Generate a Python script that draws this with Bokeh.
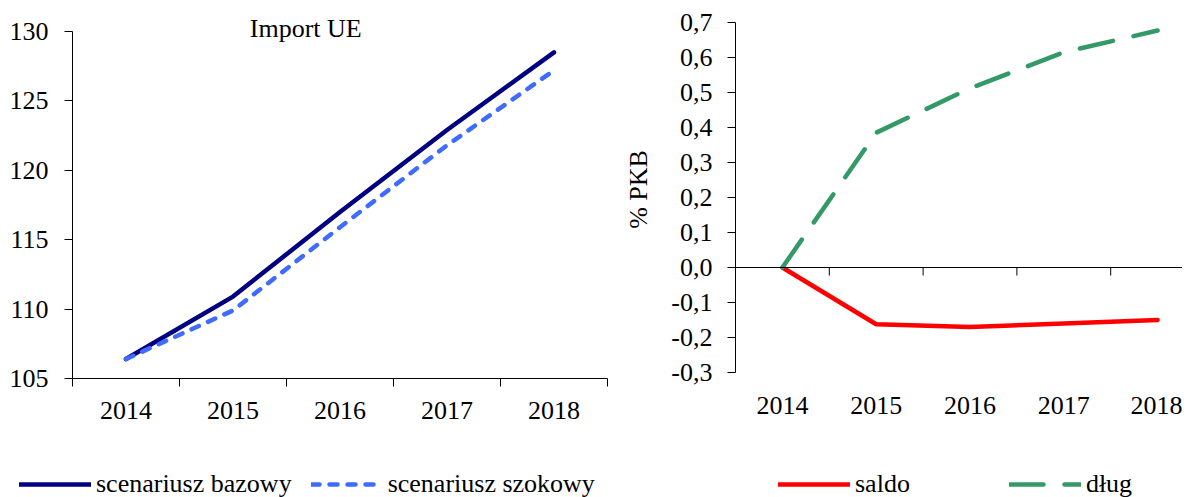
from bokeh.plotting import figure
from bokeh.models import (Range1d, FixedTicker, Span, Label, Legend, LegendItem,
                          CustomJSTickFormatter)
from bokeh.layouts import row, column
from bokeh.embed import file_html
from bokeh.resources import INLINE

# ---- data ----
years = [2014, 2015, 2016, 2017, 2018]
bazowy = [106.4, 110.9, 117.0, 122.9, 128.5]
szokowy = [106.4, 109.9, 115.9, 121.8, 127.2]
saldo = [0.0, -0.162, -0.170, -0.160, -0.150]
dlug = [0.0, 0.385, 0.512, 0.615, 0.677]
left_yticks = [105, 110, 115, 120, 125, 130]
right_yticks = [-0.3, -0.2, -0.1, 0.0, 0.1, 0.2, 0.3, 0.4, 0.5, 0.6, 0.7]
left_title = "Import UE"
right_ylabel = "% PKB"
labels = ["scenariusz bazowy", "scenariusz szokowy", "saldo", "dług"]

FONT = "Liberation Serif"
FS = "26px"
boundaries = [y - 0.5 for y in years] + [years[-1] + 0.5]

C_BAZ, C_SZO, C_SAL, C_DLU = "#000080", "#3F6BFF", "#FF0000", "#339966"
LW = 4.5
DASH_SZO, DASH_DLU = "8 10", "34 21"

# shared frame: top at 0, bottom at 378 (figure height 450)
H = 450
BOTTOM = 72

# ---- left chart ----
l_ppu = 347 / 25.0  # px per unit
p1 = figure(width=608, height=H, output_backend="svg", toolbar_location=None,
            x_range=Range1d(years[0] - 0.5, years[-1] + 0.5),
            y_range=Range1d(left_yticks[0], left_yticks[-1] + 31 / l_ppu),
            min_border_left=72, min_border_right=1, min_border_top=0, min_border_bottom=BOTTOM)
p1.outline_line_color = None
p1.grid.visible = False

p1.line(years, bazowy, line_color=C_BAZ, line_width=LW, line_cap="round", line_join="round")
p1.line(years, szokowy, line_color=C_SZO, line_width=LW, line_dash=DASH_SZO,
        line_cap="round", line_join="round")

p1.xaxis.ticker = FixedTicker(ticks=years, minor_ticks=boundaries)
p1.xaxis.major_tick_out = 0
p1.xaxis.major_tick_in = 0
p1.xaxis.minor_tick_out = 8
p1.xaxis.minor_tick_in = 0
p1.xaxis.major_label_standoff = 15
p1.yaxis.ticker = FixedTicker(ticks=left_yticks, minor_ticks=[])
p1.yaxis.bounds = (left_yticks[0], left_yticks[-1])
p1.yaxis.major_tick_out = 8
p1.yaxis.major_tick_in = 0
p1.yaxis.major_label_standoff = 16
for ax in (p1.xaxis, p1.yaxis):
    ax.axis_line_color = "black"
    ax.major_tick_line_color = "black"
    ax.minor_tick_line_color = "black"
    ax.major_label_text_font = FONT
    ax.major_label_text_font_size = FS
    ax.major_label_text_color = "black"

p1.add_layout(Label(x=2015.68, y=left_yticks[-1], text=left_title, text_font=FONT,
                    text_font_size=FS, text_align="center", text_baseline="middle",
                    y_offset=3, text_color="black"))

# ---- right chart ----
r_ppu = 350 / 1.0
p2 = figure(width=574, height=H, output_backend="svg", toolbar_location=None,
            x_range=Range1d(years[0] - 0.5, years[0] - 0.5 + 447 / 93.8),
            y_range=Range1d(right_yticks[0] - 6 / r_ppu, right_yticks[-1] + 22 / r_ppu),
            min_border_left=127, min_border_right=0, min_border_top=0, min_border_bottom=BOTTOM)
p2.outline_line_color = None
p2.grid.visible = False

p2.add_layout(Span(location=0, dimension="width", line_color="black", line_width=1))
p2.segment(x0=boundaries, y0=[0] * len(boundaries), x1=boundaries,
           y1=[-8 / r_ppu] * len(boundaries), line_color="black", line_width=1)

p2.line(years, saldo, line_color=C_SAL, line_width=LW, line_cap="round", line_join="round")
p2.line(years, dlug, line_color=C_DLU, line_width=LW, line_dash=DASH_DLU,
        line_cap="round", line_join="round")

p2.xaxis.ticker = FixedTicker(ticks=years, minor_ticks=[])
p2.xaxis.axis_line_color = None
p2.xaxis.major_tick_line_color = None
p2.xaxis.major_tick_out = 0
p2.xaxis.major_tick_in = 0
p2.xaxis.major_label_standoff = 18
p2.yaxis.ticker = FixedTicker(ticks=right_yticks, minor_ticks=[])
p2.yaxis.bounds = (right_yticks[0], right_yticks[-1])
p2.yaxis.formatter = CustomJSTickFormatter(code="return tick.toFixed(1).replace('.', ',');")
p2.yaxis.axis_line_color = "black"
p2.yaxis.major_tick_line_color = "black"
p2.yaxis.major_tick_out = 8
p2.yaxis.major_tick_in = 0
p2.yaxis.major_label_standoff = 15
p2.yaxis.axis_label = right_ylabel
p2.yaxis.axis_label_text_font = FONT
p2.yaxis.axis_label_text_font_size = FS
p2.yaxis.axis_label_text_font_style = "normal"
p2.yaxis.axis_label_text_color = "black"
p2.yaxis.axis_label_standoff = 15
for ax in (p2.xaxis, p2.yaxis):
    ax.major_label_text_font = FONT
    ax.major_label_text_font_size = FS
    ax.major_label_text_color = "black"

# ---- legend strip (keys drawn from the same series, outside the visible range) ----
lf = figure(width=1182, height=47, output_backend="svg", toolbar_location=None,
            x_range=Range1d(0, 1), y_range=Range1d(0, 1),
            x_axis_location=None, y_axis_location=None,
            min_border_left=0, min_border_right=0, min_border_top=0, min_border_bottom=0)
lf.outline_line_color = None
lf.grid.visible = False
k_baz = lf.line(years, bazowy, line_color=C_BAZ, line_width=LW, line_cap="round")
k_szo = lf.line(years, szokowy, line_color=C_SZO, line_width=LW, line_dash=DASH_SZO, line_cap="round")
k_sal = lf.line(years, saldo, line_color=C_SAL, line_width=LW, line_cap="round")
k_dlu = lf.line(years, dlug, line_color=C_DLU, line_width=LW, line_dash=DASH_DLU, line_cap="round")

common = dict(orientation="horizontal", padding=0, margin=0, glyph_width=72,
              glyph_height=28, label_height=28, label_standoff=5,
              border_line_alpha=0, background_fill_alpha=0,
              label_text_font=FONT, label_text_font_size=FS, label_text_color="black")
leg1 = Legend(items=[LegendItem(label=labels[0], renderers=[k_baz]),
                     LegendItem(label=labels[1], renderers=[k_szo])],
              location=(19, -2), spacing=19, **common)
leg2 = Legend(items=[LegendItem(label=labels[2], renderers=[k_sal]),
                     LegendItem(label=labels[3], renderers=[k_dlu])],
              location=(778, -2), spacing=99, **common)
lf.add_layout(leg1, "center")
lf.add_layout(leg2, "center")

layout = column(row(p1, p2), lf)
open("out.html", "w").write(file_html(layout, INLINE))
